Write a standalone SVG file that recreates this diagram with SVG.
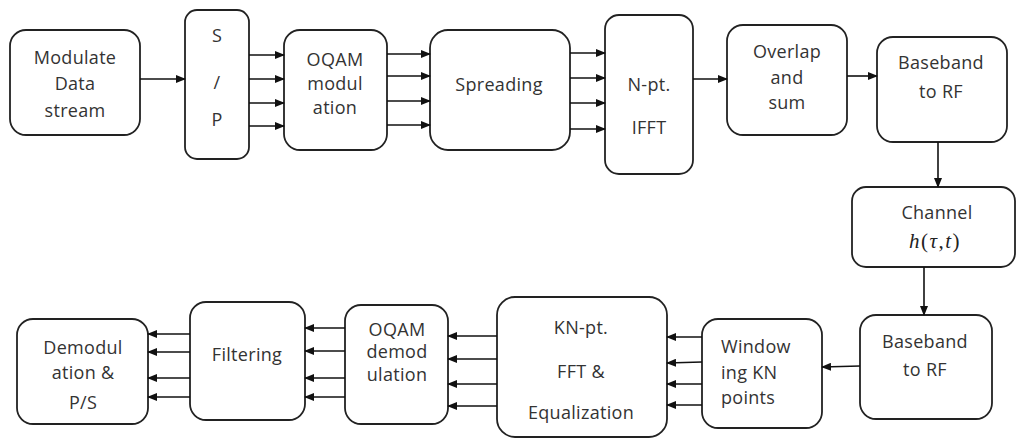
<svg xmlns="http://www.w3.org/2000/svg" width="1017" height="439" viewBox="0 0 1017 439">
<defs>
<marker id="ah" markerWidth="10" markerHeight="8" refX="9" refY="4" orient="auto" markerUnits="userSpaceOnUse">
<path d="M0,0 L10,4 L0,8 z" fill="#111"/>
</marker>
<style>
.box{fill:#fff;stroke:#222;stroke-width:1.8}
.t{font-family:"Open Sans","Noto Sans",sans-serif;font-size:18px;letter-spacing:0.3px;fill:#333;text-anchor:middle}
.m{font-family:"Liberation Serif",serif;font-size:21px;letter-spacing:1.5px;fill:#222;text-anchor:middle}
.c{stroke:#111;stroke-width:1.6;fill:none;marker-end:url(#ah)}
</style>
</defs>
<rect width="1017" height="439" fill="#fff"/>
<g id="modulate"><rect class="box" x="10" y="30" width="130" height="105" rx="16"/>
<text class="t" x="75" y="64">Modulate</text><text class="t" x="75" y="90">Data</text><text class="t" x="75" y="117">stream</text></g>
<g id="sp"><rect class="box" x="185" y="10" width="64" height="149" rx="12"/>
<text class="t" x="217" y="42">S</text><text class="t" x="217" y="89">/</text><text class="t" x="217" y="126">P</text></g>
<g id="oqam"><rect class="box" x="284" y="30" width="103" height="120" rx="16"/>
<text class="t" x="335" y="66">OQAM</text><text class="t" x="335" y="90">modul</text><text class="t" x="335" y="114">ation</text></g>
<g id="spreading"><rect class="box" x="430" y="30" width="140" height="120" rx="18"/>
<text class="t" x="499" y="91">Spreading</text></g>
<g id="ifft"><rect class="box" x="605" y="15" width="88" height="159" rx="14"/>
<text class="t" x="649" y="91">N-pt.</text><text class="t" x="649" y="134">IFFT</text></g>
<g id="overlap"><rect class="box" x="727" y="25" width="120" height="110" rx="16"/>
<text class="t" x="787" y="58">Overlap</text><text class="t" x="787" y="84">and</text><text class="t" x="787" y="109">sum</text></g>
<g id="bb1"><rect class="box" x="877" y="37" width="130" height="105" rx="16"/>
<text class="t" x="941" y="69">Baseband</text><text class="t" x="941" y="98">to RF</text></g>
<g id="channel"><rect class="box" x="852" y="187" width="163" height="80" rx="14"/>
<text class="t" x="937" y="219">Channel</text>
<text class="m" x="935" y="248"><tspan font-style="italic">h</tspan>(<tspan font-style="italic">τ</tspan>,<tspan font-style="italic">t</tspan>)</text></g>
<g id="bb2"><rect class="box" x="860" y="315" width="132" height="104" rx="16"/>
<text class="t" x="925" y="348">Baseband</text><text class="t" x="925" y="376">to RF</text></g>
<g id="windowing"><rect class="box" x="702" y="319" width="120" height="109" rx="16"/>
<text class="t" x="721" y="353" style="text-anchor:start">Window</text><text class="t" x="721" y="379" style="text-anchor:start">ing KN</text><text class="t" x="721" y="404" style="text-anchor:start">points</text></g>
<g id="fft"><rect class="box" x="497" y="297" width="170" height="140" rx="18"/>
<text class="t" x="581" y="334">KN-pt.</text><text class="t" x="581" y="378">FFT &amp;</text><text class="t" x="581" y="419">Equalization</text></g>
<g id="oqamdemod"><rect class="box" x="345" y="305" width="103" height="119" rx="16"/>
<text class="t" x="397" y="336">OQAM</text><text class="t" x="397" y="358">demod</text><text class="t" x="397" y="381">ulation</text></g>
<g id="filtering"><rect class="box" x="190" y="302" width="115" height="118" rx="16"/>
<text class="t" x="247" y="361">Filtering</text></g>
<g id="demod"><rect class="box" x="17" y="319" width="131" height="105" rx="16"/>
<text class="t" x="83" y="354">Demodul</text><text class="t" x="83" y="379">ation &amp;</text><text class="t" x="83" y="409">P/S</text></g>
<g id="connectors">
<line class="c" x1="140" y1="79" x2="185" y2="79"/>
<line class="c" x1="249" y1="55" x2="284" y2="55"/>
<line class="c" x1="249" y1="79" x2="284" y2="79"/>
<line class="c" x1="249" y1="103" x2="284" y2="103"/>
<line class="c" x1="249" y1="126" x2="284" y2="126"/>
<line class="c" x1="387" y1="54" x2="430" y2="54"/>
<line class="c" x1="387" y1="76" x2="430" y2="76"/>
<line class="c" x1="387" y1="101" x2="430" y2="101"/>
<line class="c" x1="387" y1="125" x2="430" y2="125"/>
<line class="c" x1="570" y1="53" x2="605" y2="53"/>
<line class="c" x1="570" y1="78" x2="605" y2="78"/>
<line class="c" x1="570" y1="103" x2="605" y2="103"/>
<line class="c" x1="570" y1="129" x2="605" y2="129"/>
<line class="c" x1="693" y1="79" x2="727" y2="79"/>
<line class="c" x1="847" y1="76" x2="877" y2="76"/>
<line class="c" x1="938" y1="142" x2="938" y2="187"/>
<line class="c" x1="924" y1="267" x2="924" y2="315"/>
<line class="c" x1="860" y1="366" x2="822" y2="367"/>
<line class="c" x1="702" y1="337" x2="667" y2="337"/>
<line class="c" x1="702" y1="362" x2="667" y2="363"/>
<line class="c" x1="702" y1="384" x2="667" y2="384"/>
<line class="c" x1="702" y1="405" x2="667" y2="405"/>
<line class="c" x1="497" y1="336" x2="448" y2="336"/>
<line class="c" x1="497" y1="359" x2="448" y2="359"/>
<line class="c" x1="497" y1="384" x2="448" y2="384"/>
<line class="c" x1="497" y1="406" x2="448" y2="406"/>
<line class="c" x1="345" y1="328" x2="305" y2="328"/>
<line class="c" x1="345" y1="351" x2="305" y2="351"/>
<line class="c" x1="345" y1="378" x2="305" y2="378"/>
<line class="c" x1="345" y1="397" x2="305" y2="397"/>
<line class="c" x1="190" y1="334" x2="148" y2="334"/>
<line class="c" x1="190" y1="352" x2="148" y2="352"/>
<line class="c" x1="190" y1="378" x2="148" y2="378"/>
<line class="c" x1="190" y1="397" x2="148" y2="397"/>
</g>
</svg>
